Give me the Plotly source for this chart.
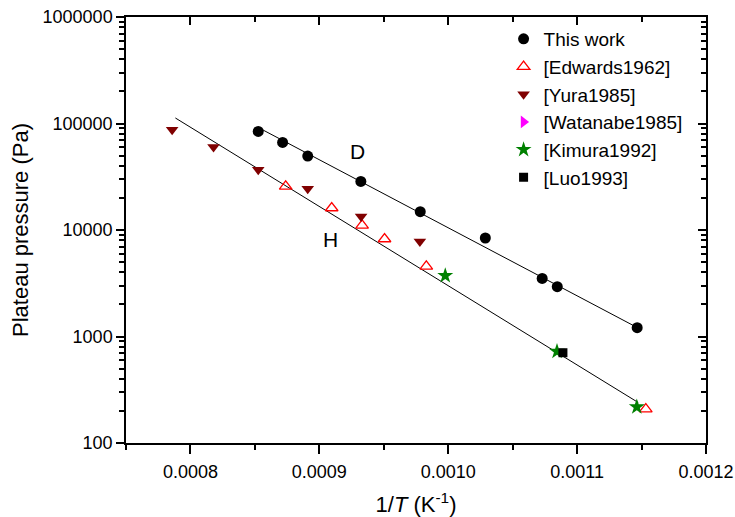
import plotly.graph_objects as go
import math

# ---- data ----
this_work_x = [0.0008526, 0.0008715, 0.000891, 0.0009322, 0.0009783, 0.0010288, 0.0010729, 0.0010846, 0.0011466]
this_work_y = [84300, 66450, 49500, 28600, 14850, 8410, 3512, 2935, 1210]

edwards_x = [0.0008739, 0.0009096, 0.0009332, 0.0009506, 0.000983, 0.0011533]
edwards_y = [25650, 16090, 11040, 8230, 4550, 208]

yura_x = [0.0007858, 0.0008179, 0.0008526, 0.000891, 0.0009324, 0.000978]
yura_y = [87500, 60150, 36840, 24430, 13420, 7815]

watanabe_x = [None]
watanabe_y = [None]

kimura_x = [0.0009977, 0.0010844, 0.0011463]
kimura_y = [3724, 724, 218]

luo_x = [0.001089]
luo_y = [704]

fit_D_x = [0.0008558, 0.0011435]
fit_D_y = [87500, 1271]
fit_H_x = [0.0007883, 0.0011474]
fit_H_y = [112700, 240]

FONT = "Liberation Sans, Arial, sans-serif"

fig = go.Figure()

fig.add_trace(go.Scatter(x=fit_D_x, y=fit_D_y, mode="lines", line=dict(color="black", width=1),
                         showlegend=False, hoverinfo="skip"))
fig.add_trace(go.Scatter(x=fit_H_x, y=fit_H_y, mode="lines", line=dict(color="black", width=1),
                         showlegend=False, hoverinfo="skip"))

fig.add_trace(go.Scatter(x=this_work_x, y=this_work_y, mode="markers", name="This work",
                         marker=dict(symbol="circle", size=11, color="black")))
fig.add_trace(go.Scatter(x=edwards_x, y=edwards_y, mode="markers", name="[Edwards1962]",
                         marker=dict(symbol="triangle-up-open", size=11, color="red", line=dict(width=1.3, color="red"))))
fig.add_trace(go.Scatter(x=yura_x, y=yura_y, mode="markers", name="[Yura1985]",
                         marker=dict(symbol="triangle-down", size=11, color="#800000")))
fig.add_trace(go.Scatter(x=watanabe_x, y=watanabe_y, mode="markers", name="[Watanabe1985]",
                         marker=dict(symbol="triangle-right", size=11, color="#FF00FF")))
fig.add_trace(go.Scatter(x=kimura_x, y=kimura_y, mode="markers", name="[Kimura1992]",
                         marker=dict(symbol="star", size=12, color="#008000")))
fig.add_trace(go.Scatter(x=luo_x, y=luo_y, mode="markers", name="[Luo1993]",
                         marker=dict(symbol="square", size=9, color="black")))

# invisible trace to activate the mirrored (inside-tick) axes
fig.add_trace(go.Scatter(x=[None], y=[None], xaxis="x2", yaxis="y2", showlegend=False, hoverinfo="skip"))

fig.update_layout(
    width=735, height=517,
    margin=dict(l=126, r=29, t=17, b=74),
    paper_bgcolor="white", plot_bgcolor="white",
    font=dict(family=FONT, size=18, color="black"),
    showlegend=True,
    legend=dict(x=0.651, y=0.993, xanchor="left", yanchor="top", bgcolor="rgba(0,0,0,0)",
                font=dict(size=19, family=FONT), tracegroupgap=0, itemsizing="trace"),
    xaxis=dict(range=[0.00075, 0.0012], tick0=0.0008, dtick=0.0001, tickformat=".4f", automargin=False,
               showgrid=False, zeroline=False, showline=True, linecolor="black", linewidth=1.5,
               ticks="outside", ticklen=9, tickwidth=1.5, tickcolor="black", ticklabelstandoff=3,
               minor=dict(dtick=0.00005, tick0=0.00075, ticks="outside", ticklen=5, tickwidth=1.5, tickcolor="black", showgrid=False),
               title=dict(text="1/<i>T</i> (K<sup>-1</sup>)", font=dict(size=22), standoff=17)),
    yaxis=dict(type="log", range=[2, 6], dtick=1, tickformat="d", automargin=False,
               showgrid=False, zeroline=False, showline=True, linecolor="black", linewidth=1.5,
               ticks="outside", ticklen=8, tickwidth=1.5, tickcolor="black",
               minor=dict(dtick="D1", ticks="outside", ticklen=5, tickwidth=1.5, tickcolor="black", showgrid=False),
               title=dict(text="Plateau pressure (Pa)", font=dict(size=22), standoff=8)),
    xaxis2=dict(overlaying="x", matches="x", side="top", range=[0.00075, 0.0012], tick0=0.0008, dtick=0.0001,
                automargin=False,
                showticklabels=False, showgrid=False, zeroline=False, showline=True, linecolor="black", linewidth=1.5,
                ticks="inside", ticklen=8, tickwidth=1.5, tickcolor="black",
                minor=dict(dtick=0.00005, tick0=0.00075, ticks="inside", ticklen=5, tickwidth=1.5, tickcolor="black")),
    yaxis2=dict(overlaying="y", side="right", type="log", range=[2, 6], dtick=1, automargin=False,
                showticklabels=False, showgrid=False, zeroline=False, showline=True, linecolor="black", linewidth=1.5,
                ticks="inside", ticklen=8, tickwidth=1.5, tickcolor="black",
                minor=dict(dtick="D1", ticks="inside", ticklen=5, tickwidth=1.5, tickcolor="black")),
    annotations=[
        dict(x=0.0009296, y=math.log10(54700), xref="x", yref="y", text="D", showarrow=False,
             font=dict(size=21, family=FONT)),
        dict(x=0.0009089, y=math.log10(8110), xref="x", yref="y", text="H", showarrow=False,
             font=dict(size=21, family=FONT)),
    ],
)

fig.write_html("out.html")
